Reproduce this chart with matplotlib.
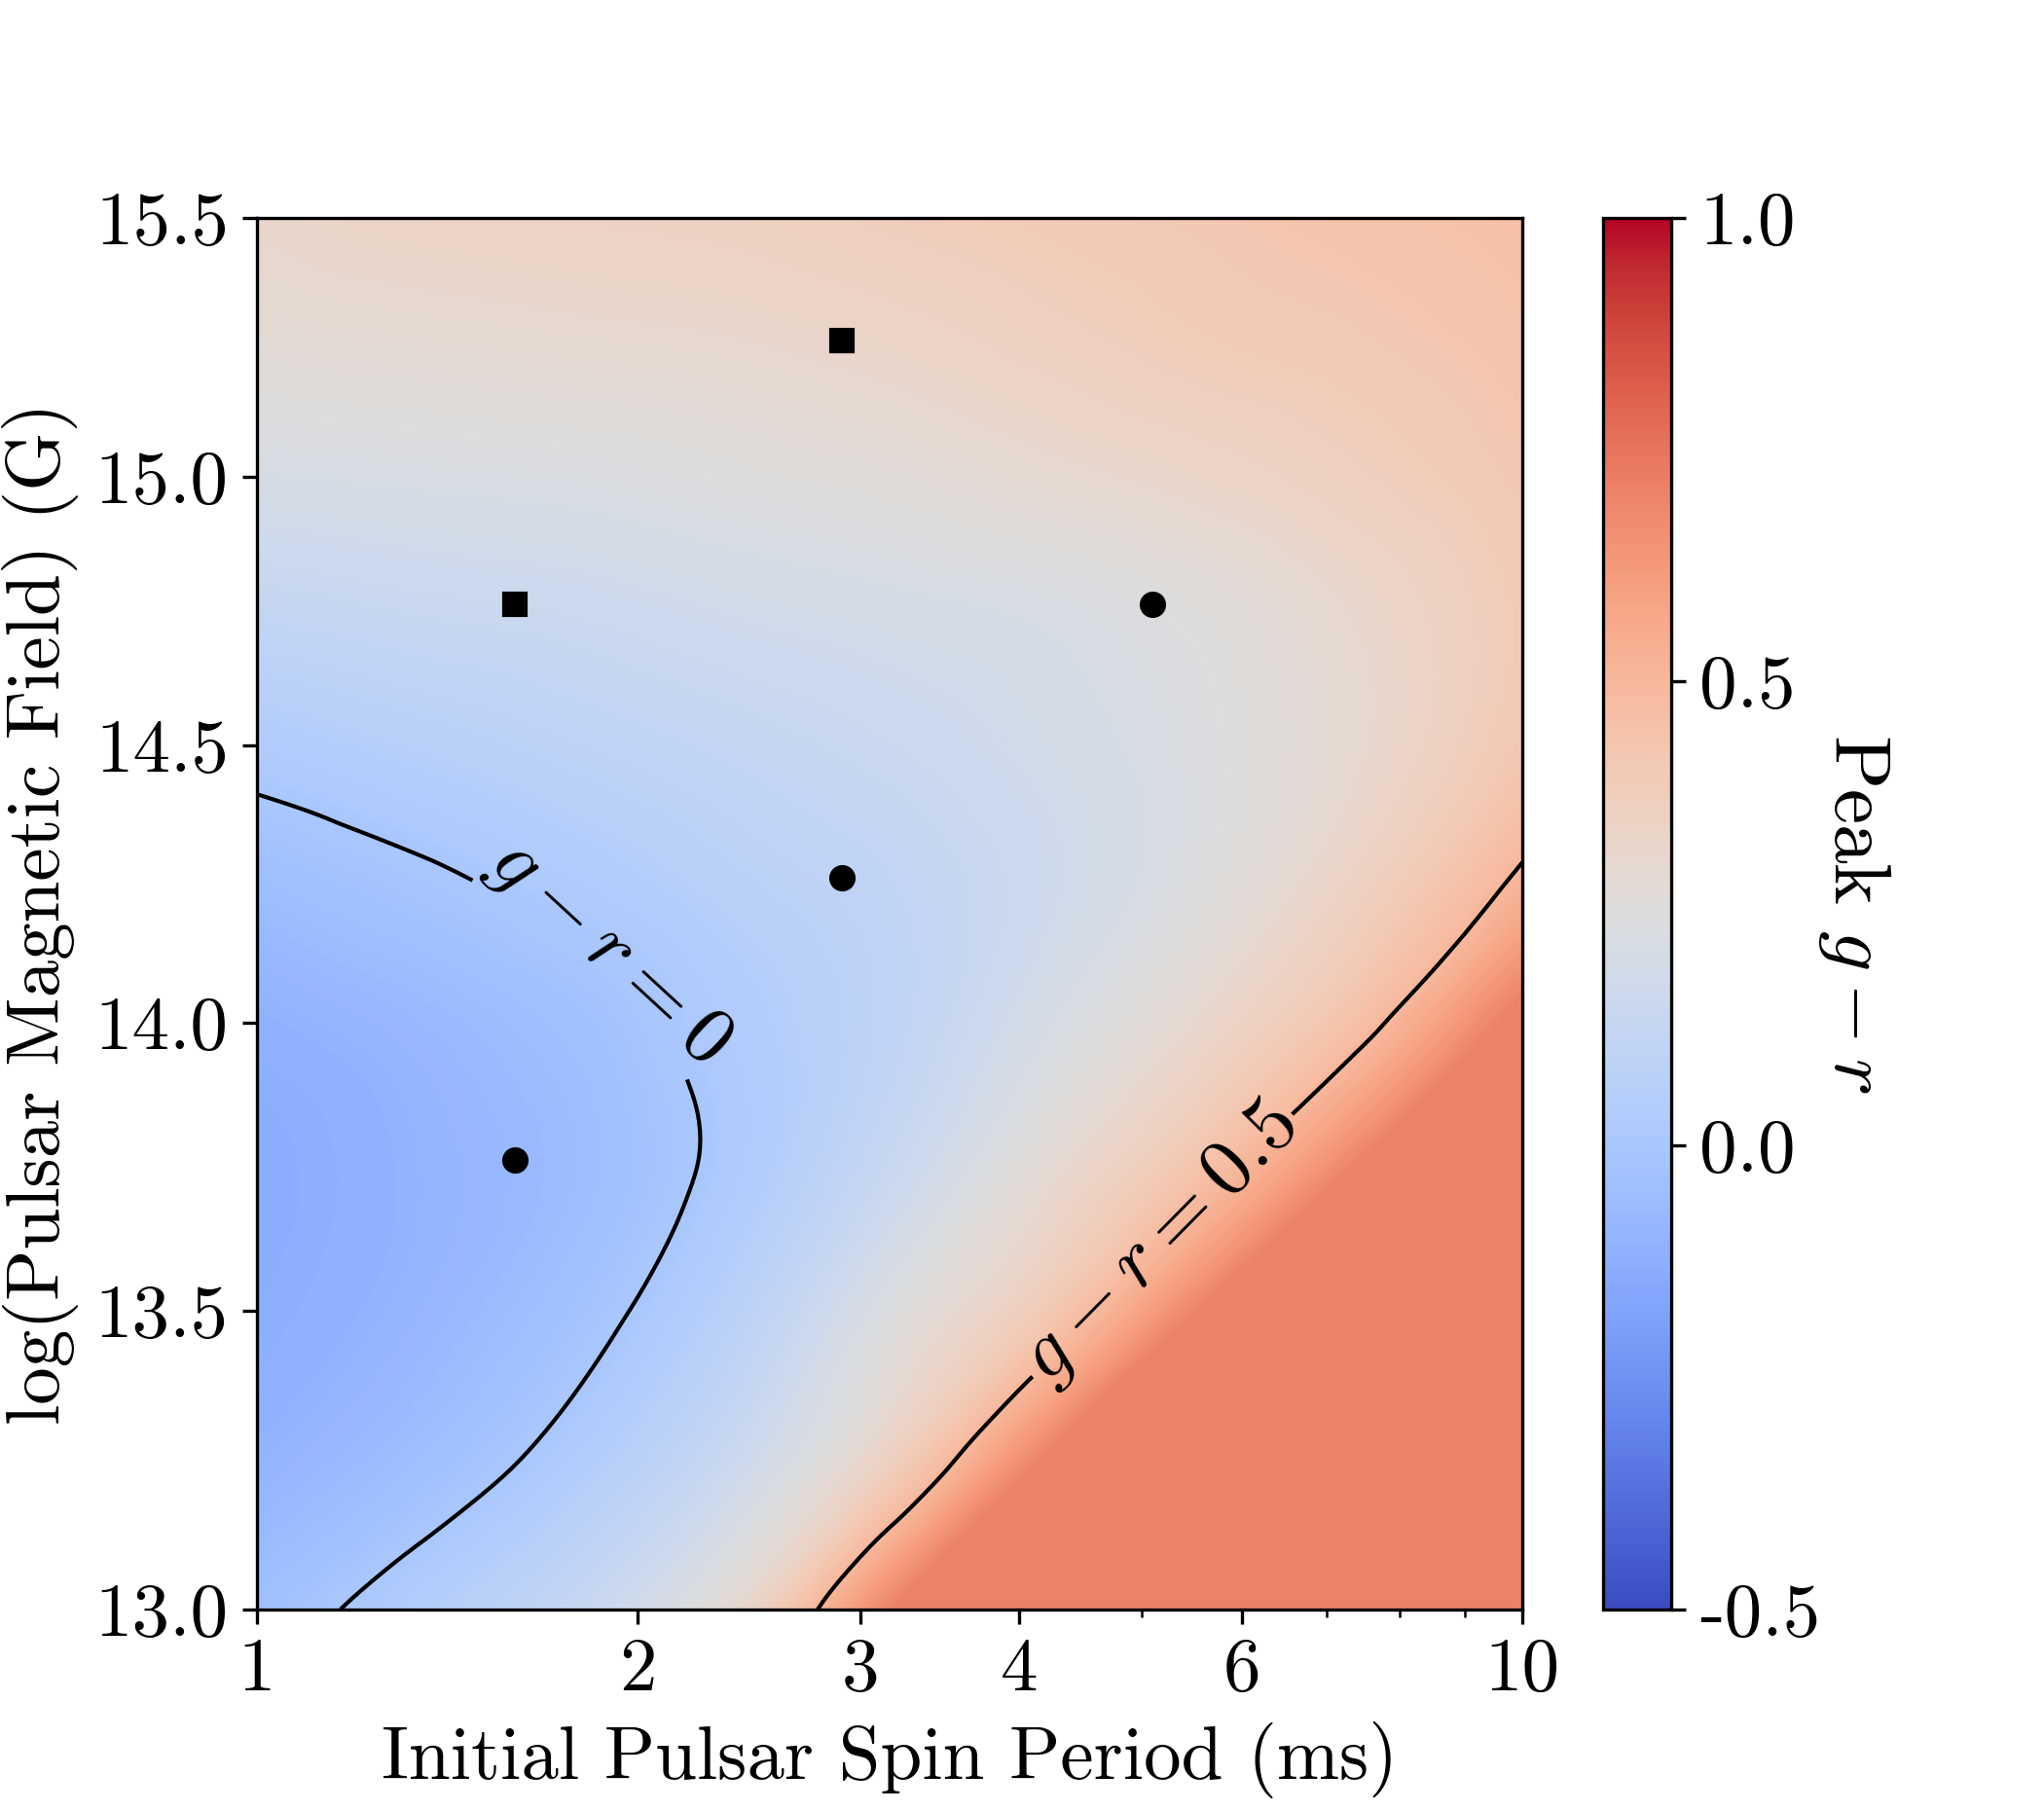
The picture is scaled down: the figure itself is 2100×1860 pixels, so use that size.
import numpy as np
import matplotlib
matplotlib.use("Agg")
import matplotlib.pyplot as plt
import matplotlib.tri as mtri
from matplotlib.colors import Normalize
from matplotlib.ticker import NullFormatter, NullLocator

plt.rcParams['font.family'] = 'serif'
plt.rcParams['font.serif'] = ['cmr10']
plt.rcParams['mathtext.fontset'] = 'cm'
plt.rcParams['axes.unicode_minus'] = False

# grid the colours were read on (log10 of spin period in ms, log B in G)
log_period = [0.0, 0.125, 0.25, 0.375, 0.5, 0.625, 0.75, 0.875, 1.0]
log_field = [13.0, 13.25, 13.5, 13.75, 14.0, 14.25, 14.5, 14.75, 15.0, 15.25, 15.5]

# peak g-r, one row per log_field value (lower right runs on past the plateau)
peak_gr = [
    [-0.04,  0.04,  0.13,  0.30,  0.70,  1.12,  1.55,  2.00,  2.45],  # 13.0
    [-0.10, -0.05,  0.03,  0.15,  0.36,  0.72,  1.10,  1.50,  1.90],  # 13.25
    [-0.13, -0.09, -0.03,  0.07,  0.24,  0.41,  0.72,  1.05,  1.40],  # 13.5
    [-0.14, -0.10, -0.06,  0.02,  0.14,  0.29,  0.45,  0.72,  1.02],  # 13.75
    [-0.11, -0.08, -0.04,  0.03,  0.10,  0.21,  0.32,  0.47,  0.75],  # 14.0
    [-0.05, -0.015, 0.025, 0.07,  0.11,  0.17,  0.25,  0.36,  0.52],  # 14.25
    [ 0.03,  0.06,  0.09,  0.12,  0.15,  0.19,  0.24,  0.31,  0.42],  # 14.5
    [ 0.12,  0.14,  0.155, 0.18,  0.20,  0.22,  0.26,  0.32,  0.40],  # 14.75
    [ 0.21,  0.22,  0.23,  0.25,  0.27,  0.30,  0.33,  0.37,  0.42],  # 15.0
    [ 0.28,  0.29,  0.30,  0.31,  0.33,  0.36,  0.39,  0.41,  0.44],  # 15.25
    [ 0.32,  0.34,  0.35,  0.36,  0.38,  0.40,  0.42,  0.44,  0.46],  # 15.5
]
# the lower right corner is flat at this colour
plateau_gr = 0.705

# models shown as markers
square_period = [1.6, 2.9]
square_field = [14.76, 15.26]
circle_period = [1.6, 2.9, 5.1]
circle_field = [13.76, 14.26, 14.76]

x_ticks = [1, 2, 3, 4, 6, 10]
y_ticks = [13.0, 13.5, 14.0, 14.5, 15.0, 15.5]
cbar_ticks = [-0.5, 0.0, 0.5, 1.0]
cbar_labels = ['-0.5', '0.0', '0.5', '1.0']

# triangles on the read grid, all cut along the same diagonal
U, Y = np.meshgrid(log_period, log_field)
Z = np.array(peak_gr)
nx = len(log_period)
tris = []
for j in range(len(log_field) - 1):
    for i in range(nx - 1):
        a = j * nx + i
        tris.append([a, a + 1, a + nx + 1])
        tris.append([a, a + nx + 1, a + nx])
tri = mtri.Triangulation(U.ravel(), Y.ravel(), tris)

# smooth it with matplotlib's own cubic refiner, then cap at the plateau
interp = mtri.CubicTriInterpolator(tri, Z.ravel(), kind='geom')
refiner = mtri.UniformTriRefiner(tri)
tri_f, z_f = refiner.refine_field(Z.ravel(), triinterpolator=interp, subdiv=4)
z_f = np.minimum(z_f, plateau_gr)
tri_plot = mtri.Triangulation(10 ** tri_f.x, tri_f.y, tri_f.triangles)

fig = plt.figure(figsize=(7, 6.2), dpi=300)
ax = fig.add_axes([0.1257, 0.1109, 0.6191, 0.7689])
ax.set_xscale('log')
ax.set_yscale('log')
ax.set_xlim(1, 10)
ax.set_ylim(13.0, 15.5)

norm = Normalize(vmin=-0.5, vmax=1.0)
fill = ax.tricontourf(tri_plot, z_f, levels=np.linspace(-0.5, 1.0, 301),
                      cmap='coolwarm', norm=norm)
cs = ax.tricontour(tri_plot, z_f, levels=[0.0, 0.5], colors='k', linewidths=1.0)
ax.clabel(cs, fmt=lambda v: r'$g-r=%g$' % v, fontsize=20, inline=True,
          manual=[(1.9, 14.13), (5.38, 13.58)])

ax.plot(square_period, square_field, 's', color='k', ms=5.5, ls='none')
ax.plot(circle_period, circle_field, 'o', color='k', ms=5.5, ls='none')

ax.set_xticks(x_ticks)
ax.set_xticklabels([str(t) for t in x_ticks])
ax.xaxis.set_minor_formatter(NullFormatter())
ax.set_yticks(y_ticks)
ax.set_yticklabels(['%.1f' % t for t in y_ticks])
ax.yaxis.set_minor_locator(NullLocator())
ax.yaxis.set_minor_formatter(NullFormatter())
ax.tick_params(labelsize=18.5)
ax.set_xlabel('Initial Pulsar Spin Period (ms)', fontsize=18.5)
ax.set_ylabel('log(Pulsar Magnetic Field) (G)', fontsize=18.5)

cax = fig.add_axes([0.7844, 0.1109, 0.0332, 0.7689])
sm = plt.cm.ScalarMappable(norm=norm, cmap='coolwarm')
cb = fig.colorbar(sm, cax=cax, ticks=cbar_ticks)
cb.ax.set_yticklabels(cbar_labels)
cb.ax.tick_params(labelsize=18.5)
cb.set_label(r'Peak $g-r$', rotation=270, fontsize=19.5, labelpad=18)

fig.savefig('out.png', dpi=300)
